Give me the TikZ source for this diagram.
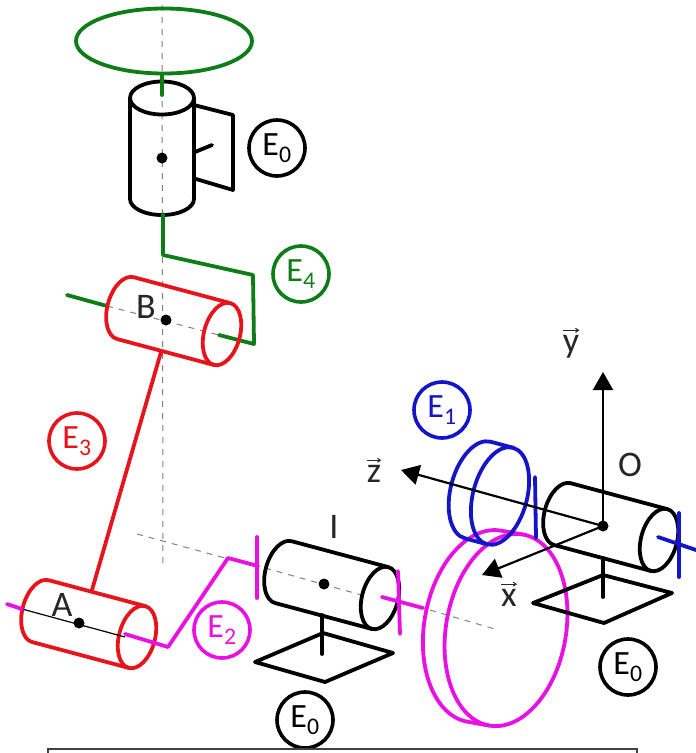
\documentclass[tikz,border=0pt]{standalone}
\usepackage{fontspec}
\setmainfont{Carlito}
\usetikzlibrary{arrows.meta}
\definecolor{gr}{RGB}{14,125,24}
\definecolor{rd}{RGB}{232,20,28}
\definecolor{bl}{RGB}{20,20,200}
\definecolor{mg}{RGB}{232,16,226}
\tikzset{
  part/.style={line width=3.8pt,line join=round,line cap=round},
  axisl/.style={gray,line width=1pt,dash pattern=on 6pt off 6pt},
  badge/.style={circle,draw=#1,text=#1,line width=3.6pt,minimum size=56pt,inner sep=0pt,font=\fontsize{34}{34}\selectfont},
  lab/.style={inner sep=0pt,text=black!85,font=\fontsize{36}{36}\selectfont},
  pivot/.style={circle,fill=black,minimum size=11pt,inner sep=0pt},
  vecar/.style={line width=2.2pt,-{Triangle[length=18pt,width=20pt]}},
  overar/.style={line width=1pt,black!85,-{Straight Barb[length=3pt,width=4pt]}},
}
% colour, end centre x, y, length, x radius, y radius, tilt
\newcommand\tiltcyl[7]{%
  \begin{scope}[shift={(#2,#3)},rotate=-#7]
    \draw[part,#1] (-#4,#6) arc[start angle=90,end angle=270,x radius=#5,y radius=#6] -- (0,-#6);
    \draw[part,#1] (-#4,#6) -- (0,#6);
    \draw[part,#1] (0,0) ellipse[x radius=#5,y radius=#6];
  \end{scope}}
\begin{document}
\begin{tikzpicture}[x=1pt,y=-1pt]
\useasboundingbox (0,0) rectangle (696,753);
\clip (0,0) rectangle (696,753);
\fill[white] (0,0) rectangle (696,753);
% centre lines
\draw[axisl] (162,5) -- (163,565);
\draw[axisl] (137,534) -- (225,558);
\draw[axisl] (265,568) -- (365,596);
\draw[axisl] (430,610) -- (498,630);
\draw[axisl] (107,306) -- (219,335);
% top green ring and vertical cylinder
\draw[part,gr] (164,41) ellipse[x radius=88,y radius=32.5];
\draw[part] (162,98) ellipse[x radius=32,y radius=16.5];
\draw[part] (130,98) -- (130,199) arc[start angle=180,end angle=0,x radius=32,y radius=16] -- (194,98);
\draw[part] (194,105) -- (233,115) -- (233,190) -- (196,179);
\draw[part] (195,152) -- (212,145);
\node[pivot] (top) at (162,158) {};
\node[badge=black] (e0a) at (277,148) {E\textsubscript{0}};
\draw[part,gr] (162,74) -- (162,95);
\draw[part,gr] (163,214) -- (163,255) -- (253,275) -- (254,344) -- (219,335);
\draw[part,gr] (67,295) -- (107,306);
\node[badge=gr] (e4) at (301,274) {E\textsubscript{4}};
% red cylinder B
\tiltcyl{rd}{222}{334}{100}{18}{32}{15}
\node[pivot] (B) at (166,320) {};
\node[lab] (lB) at (146,307) {B};
% red link
\draw[part,rd] (161,352) -- (92,590);
\node[badge=rd] (e3) at (77,441) {E\textsubscript{3}};
% red cylinder A
\tiltcyl{rd}{137}{637}{100}{18}{32}{15}
\draw[line width=1.2pt] (22,609) -- (125,637);
\node[pivot] (A) at (79,623) {};
\node[lab] (lA) at (62,605) {A};
% magenta shaft
\draw[part,mg] (7,604) -- (22,609);
\draw[part,mg] (125,634) -- (168,647) -- (228,558) -- (258,566);
\draw[part,mg] (257,537) -- (257,598);
\node[badge=mg] (e2) at (222,630) {E\textsubscript{2}};
% black cylinder I
\tiltcyl{black}{380}{598}{100}{18}{32}{15}
\node[pivot] (I) at (324,584) {};
\node[lab] (lI) at (334,527) {I};
\draw[part] (322,615) -- (322,654);
\draw[part] (255,662) -- (323,633) -- (393,653) -- (325,682) -- cycle;
\node[badge=black] (e0b) at (305,720) {E\textsubscript{0}};
\draw[part,mg] (398,571) -- (400,634);
\draw[part,mg] (382,597) -- (423,608);
% magenta wheel
\tiltcyl{mg}{506}{630}{22}{60}{97}{10}
% blue wheel
\tiltcyl{bl}{500}{496}{23}{27}{50}{15}
\draw[part,bl] (535,477) -- (536,538);
\node[badge=bl] (e1) at (442,410) {E\textsubscript{1}};
% black cylinder O
\tiltcyl{black}{659}{540}{100}{18}{32}{15}
\draw[part] (603,558) -- (603,597);
\draw[part] (533,603) -- (603,575) -- (672,593) -- (604,623) -- cycle;
\draw[part,bl] (679,513) -- (679,577);
\draw[part,bl] (658,537) -- (696,550);
\node[badge=black] (e0c) at (628,667) {E\textsubscript{0}};
% frame
\node[pivot] (O) at (603,526) {};
\node[lab] (lO) at (630,465) {O};
\coordinate (ytip) at (603,372);
\coordinate (ztip) at (401,470);
\coordinate (xtip) at (482,575);
\draw[vecar] (O.center) -- (ytip);
\draw[vecar] (O.center) -- (ztip);
\draw[vecar] (O.center) -- (xtip);
\node[lab] (ly) at (571,347) {y};
\node[lab] (lz) at (374,474) {z};
\node[lab] (lx) at (509,598) {x};
\draw[overar] ([yshift=5pt]ly.north west) -- ([yshift=5pt]ly.north east);
\draw[overar] ([yshift=5pt]lz.north west) -- ([yshift=5pt]lz.north east);
\draw[overar] ([yshift=5pt]lx.north west) -- ([yshift=5pt]lx.north east);
% caption frame
\draw[line width=1.2pt,black!75] (48,749) rectangle (637,770);
\end{tikzpicture}
\end{document}
